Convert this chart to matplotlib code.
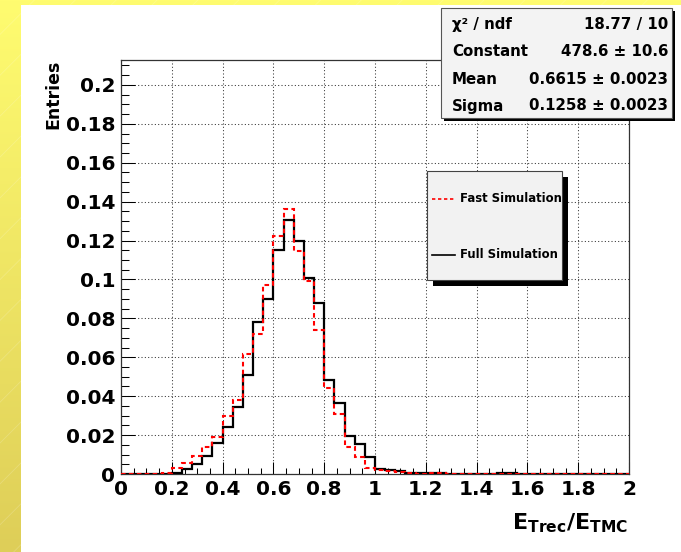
import numpy as np
import matplotlib
matplotlib.use("Agg")
import matplotlib.pyplot as plt
from matplotlib.patches import Rectangle
from matplotlib.lines import Line2D
from matplotlib.ticker import FuncFormatter, MultipleLocator

# ---------------- data ----------------
bin_edges = np.round(np.arange(0, 2.0001, 0.04), 2)

full_sim = [0, 0, 0, 0, 0,                                   # 0.00-0.20
            0.0005, 0.0026, 0.0052, 0.0093, 0.0158,          # 0.20-0.40
            0.0242, 0.0346, 0.0511, 0.0779, 0.0898,          # 0.40-0.60
            0.1149, 0.1305, 0.1200, 0.1009, 0.0877,          # 0.60-0.80
            0.0482, 0.0366, 0.0196, 0.0156, 0.0089,          # 0.80-1.00
            0.0026, 0.0019, 0.0015, 0.0006, 0.0004,          # 1.00-1.20
            0.0004, 0.0003, 0.0002, 0.0002, 0.0001,          # 1.20-1.40
            0.0001, 0.0000, 0.0003, 0.0003, 0.0001,          # 1.40-1.60
            0.0001, 0.0000, 0.0001, 0.0000, 0.0002,          # 1.60-1.80
            0.0001, 0.0000, 0.0000, 0.0000, 0.0000]          # 1.80-2.00

fast_sim = [0.0000, 0.0001, 0.0002, 0.0002, 0.0005,          # 0.00-0.20
            0.0033, 0.0057, 0.0095, 0.0139, 0.0189,          # 0.20-0.40
            0.0299, 0.0378, 0.0616, 0.0719, 0.0973,          # 0.40-0.60
            0.1221, 0.1360, 0.1145, 0.0991, 0.0738,          # 0.60-0.80
            0.0444, 0.0306, 0.0138, 0.0086, 0.0033,          # 0.80-1.00
            0.0020, 0.0017, 0.0009, 0.0003, 0.0002,          # 1.00-1.20
            0.0003, 0.0003, 0.0001, 0.0001, 0.0000,          # 1.20-1.40
            0.0000, 0.0001, 0.0000, 0.0000, 0.0002,          # 1.40-1.60
            0.0002, 0.0000, 0.0000, 0.0001, 0.0000,          # 1.60-1.80
            0.0000, 0.0001, 0.0000, 0.0000, 0.0000]          # 1.80-2.00

legend_labels = ["Fast Simulation", "Full Simulation"]
stats_names = ["\u03c7\u00b2 / ndf", "Constant", "Mean", "Sigma"]
stats_values = ["18.77 / 10", "478.6 \u00b1 10.6", "0.6615 \u00b1 0.0023", "0.1258 \u00b1 0.0023"]

x_ticks = np.round(np.arange(0, 2.0001, 0.2), 1)
y_ticks = np.round(np.arange(0, 0.2001, 0.02), 2)

# ---------------- figure ----------------
W, H = 681, 552
fig = plt.figure(figsize=(W / 100, H / 100), dpi=100)
fig.patch.set_facecolor("white")
FONT = "DejaVu Sans"

def fx(px):
    return px / W

def fy(py):
    return 1 - py / H

# yellow gradient canvas border
bg = fig.add_axes([0, 0, 1, 1], zorder=-2)
bg.set_axis_off()
top_c = np.array([255, 252, 112]) / 255
bot_c = np.array([222, 206, 88]) / 255
t = np.linspace(0, 1, 256)[:, None]
grad = top_c[None, None, :] * (1 - t[:, :, None]) + bot_c[None, None, :] * t[:, :, None]
grad = np.repeat(grad, 4, axis=1)
bg.imshow(grad, aspect="auto", extent=[0, 1, 0, 1], origin="upper")
for k in np.arange(-1.0, 1.2, 0.06):
    bg.plot([k, k + 1], [0, 1 * W / H], color="white", alpha=0.18, lw=0.6)
bg.set_xlim(0, 1)
bg.set_ylim(0, 1)

# white pad
fig.patches.append(Rectangle((fx(21), 0), 1 - fx(21), fy(5), transform=fig.transFigure,
                             facecolor="white", edgecolor="none", zorder=-1))

# main axes
ax_l, ax_r, ax_t, ax_b = 121, 629, 60, 474
ax = fig.add_axes([fx(ax_l), fy(ax_b), fx(ax_r - ax_l), (ax_b - ax_t) / H], zorder=0)
ax.set_facecolor("white")

ax.stairs(full_sim, bin_edges, color="black", lw=1.6, zorder=3)
ax.stairs(fast_sim, bin_edges, color="#ff0000", lw=1.5, linestyle=(0, (2.2, 1.6)), zorder=4)

ax.set_xlim(0, 2)
ax.set_ylim(0, 0.2128)
ax.set_xticks(x_ticks)
ax.set_yticks(y_ticks)
ax.xaxis.set_minor_locator(MultipleLocator(0.05))
ax.yaxis.set_minor_locator(MultipleLocator(0.005))
fmt = FuncFormatter(lambda v, p: "%g" % v)
ax.xaxis.set_major_formatter(fmt)
ax.yaxis.set_major_formatter(fmt)
ax.grid(True, which="major", linestyle=(0, (1, 2.2)), color="#333333", linewidth=0.75, zorder=1)
ax.set_axisbelow(True)

ax.tick_params(axis="both", which="both", direction="in", top=False, right=False,
               width=0.75, color="black")
ax.tick_params(axis="x", which="major", length=8.5, pad=4)
ax.tick_params(axis="x", which="minor", length=4.3)
ax.tick_params(axis="y", which="major", length=10, pad=4)
ax.tick_params(axis="y", which="minor", length=5.5)
for lab in ax.get_xticklabels() + ax.get_yticklabels():
    lab.set_fontfamily(FONT)
    lab.set_fontweight("bold")
    lab.set_fontsize(14.5)
for s in ax.spines.values():
    s.set_linewidth(0.9)
    s.set_color("#333333")

# axis titles
fig.text(fx(53), fy(60), "Entries", rotation=90, ha="center", va="top",
         fontsize=12.5, fontweight="bold", family=FONT)
fig.text(fx(628), fy(529), r"$\mathbf{E_{Trec}/E_{TMC}}$", ha="right", va="baseline",
         fontsize=16, family=FONT)

# stats box
sx0, sy0, sx1, sy1 = 441, 8, 672, 118
fig.patches.append(Rectangle((fx(sx0 + 3), fy(sy1 + 3)), fx(sx1 - sx0), (sy1 - sy0) / H,
                             transform=fig.transFigure, facecolor="black", edgecolor="none", zorder=5))
fig.patches.append(Rectangle((fx(sx0), fy(sy1)), fx(sx1 - sx0), (sy1 - sy0) / H,
                             transform=fig.transFigure, facecolor="#f3f3f3", edgecolor="#555555",
                             lw=0.8, zorder=6))
row_y = [25, 52, 79, 106]
for name, val, ry in zip(stats_names, stats_values, row_y):
    fig.text(fx(452), fy(ry), name, ha="left", va="center", fontsize=10.8,
             fontweight="bold", family=FONT, zorder=7)
    fig.text(fx(668), fy(ry), val, ha="right", va="center", fontsize=10.8,
             fontweight="bold", family=FONT, zorder=7)

# legend box
lx0, ly0, lx1, ly1 = 427, 171, 562, 280
fig.patches.append(Rectangle((fx(lx0 + 6), fy(ly1 + 6)), fx(lx1 - lx0), (ly1 - ly0) / H,
                             transform=fig.transFigure, facecolor="black", edgecolor="none", zorder=5))
fig.patches.append(Rectangle((fx(lx0), fy(ly1)), fx(lx1 - lx0), (ly1 - ly0) / H,
                             transform=fig.transFigure, facecolor="#f2f2f2", edgecolor="#444444",
                             lw=0.8, zorder=6))
leg_styles = [dict(color="#ff0000", lw=1.2, linestyle=(0, (2, 1.6))),
              dict(color="black", lw=1.2, linestyle="-")]
for lab, st, ry in zip(legend_labels, leg_styles, [199, 255]):
    fig.lines.append(Line2D([fx(432), fx(455)], [fy(ry), fy(ry)], transform=fig.transFigure,
                            zorder=7, **st))
    fig.text(fx(460), fy(ry), lab, ha="left", va="center", fontsize=8.4,
             fontweight="bold", family=FONT, zorder=7)

fig.savefig("out.png", dpi=100)
